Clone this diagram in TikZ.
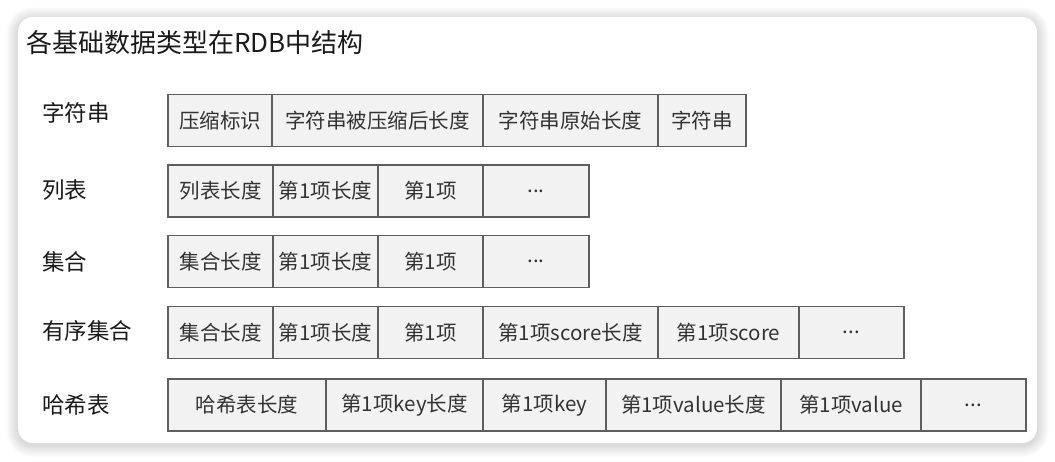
\documentclass[tikz,border=0pt]{standalone}
\usepackage{fontspec}
\setmainfont{Noto Sans CJK SC}
\usetikzlibrary{positioning}
\definecolor{cellfill}{HTML}{F2F2F2}
\definecolor{cellline}{HTML}{5E5E5E}
\definecolor{celltext}{HTML}{333333}
\definecolor{labeltext}{HTML}{1A1A1A}

\begin{document}
\begin{tikzpicture}[
		x=1pt, y=-1pt,
		cell/.style={draw=cellline, fill=cellfill, line width=1.4pt, outer sep=0pt, inner sep=0pt,
				minimum height=52pt, text=celltext, font=\fontsize{20.5}{24}\selectfont},
		rowlabel/.style={anchor=west, inner sep=0pt, text=labeltext, font=\fontsize{22.5}{26}\selectfont}
	]
	\useasboundingbox (0,0) rectangle (1055,461);
	\fill[white] (0,0) rectangle (1055,461);
	% card with soft shadow
	\foreach \s in {1,...,12}
		\fill[black, opacity=0.011, rounded corners=15pt+\s pt] (18-\s,19-\s) rectangle (1037+\s,445+\s);
	\fill[white, rounded corners=15pt] (18,17) rectangle (1037,443);

	\node[anchor=west, inner sep=0pt, text=labeltext, font=\fontsize{26}{30}\selectfont] (title) at (26,43) {各基础数据类型在RDB中结构};

	% 字符串
	\node[rowlabel] (lstr) at (42,113) {字符串};
	\node[cell, minimum width=104pt, anchor=west] (str1) at (168,120.5) {压缩标识};
	\node[cell, minimum width=211pt, right=0pt of str1] (str2) {字符串被压缩后长度};
	\node[cell, minimum width=175pt, right=0pt of str2] (str3) {字符串原始长度};
	\node[cell, minimum width=88pt, right=0pt of str3] (str4) {字符串};

	% 列表
	\node[rowlabel] (llist) at (42,190) {列表};
	\node[cell, minimum width=105pt, anchor=west] (list1) at (168,191) {列表长度};
	\node[cell, minimum width=105pt, right=0pt of list1] (list2) {第1项长度};
	\node[cell, minimum width=105pt, right=0pt of list2] (list3) {第1项};
	\node[cell, minimum width=106pt, right=0pt of list3] (list4) {...};

	% 集合
	\node[rowlabel] (lset) at (42,262) {集合};
	\node[cell, minimum width=105pt, anchor=west] (set1) at (168,261.5) {集合长度};
	\node[cell, minimum width=105pt, right=0pt of set1] (set2) {第1项长度};
	\node[cell, minimum width=105pt, right=0pt of set2] (set3) {第1项};
	\node[cell, minimum width=106pt, right=0pt of set3] (set4) {...};

	% 有序集合
	\node[rowlabel] (lzset) at (42,331) {有序集合};
	\node[cell, minimum width=105pt, anchor=west] (zset1) at (168,332.5) {集合长度};
	\node[cell, minimum width=105pt, right=0pt of zset1] (zset2) {第1项长度};
	\node[cell, minimum width=105pt, right=0pt of zset2] (zset3) {第1项};
	\node[cell, minimum width=175pt, right=0pt of zset3] (zset4) {第1项score长度};
	\node[cell, minimum width=141pt, right=0pt of zset4] (zset5) {第1项score};
	\node[cell, minimum width=105pt, right=0pt of zset5] (zset6) {...};

	% 哈希表
	\node[rowlabel] (lhash) at (42,405) {哈希表};
	\node[cell, minimum width=158pt, anchor=west] (hash1) at (168,405) {哈希表长度};
	\node[cell, minimum width=157pt, right=0pt of hash1] (hash2) {第1项key长度};
	\node[cell, minimum width=123pt, right=0pt of hash2] (hash3) {第1项key};
	\node[cell, minimum width=175pt, right=0pt of hash3] (hash4) {第1项value长度};
	\node[cell, minimum width=140pt, right=0pt of hash4] (hash5) {第1项value};
	\node[cell, minimum width=105pt, right=0pt of hash5] (hash6) {...};
\end{tikzpicture}
\end{document}
